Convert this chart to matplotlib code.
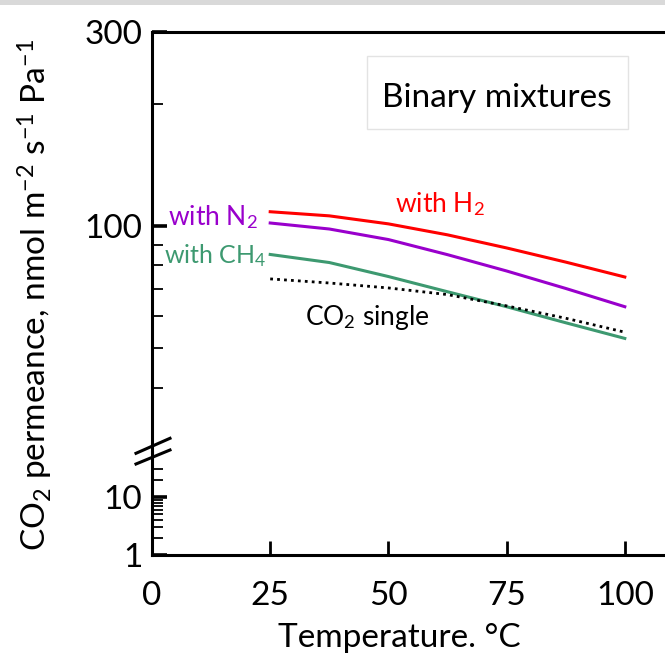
import numpy as np
import matplotlib
matplotlib.use("Agg")
import matplotlib.pyplot as plt
from matplotlib.lines import Line2D
from matplotlib.patches import Rectangle
from matplotlib.ticker import FixedLocator, NullFormatter

plt.rcParams['font.family'] = ['Lato', 'DejaVu Sans']
plt.rcParams['mathtext.fontset'] = 'custom'
plt.rcParams['mathtext.rm'] = 'Lato'
plt.rcParams['mathtext.it'] = 'Lato:italic'
plt.rcParams['mathtext.bf'] = 'Lato:bold'

# data
temperature = [25, 37.5, 50, 62.5, 75, 87.5, 100]
with_h2 = [108.4, 105.9, 101.2, 95.1, 88.3, 81.5, 74.9]
with_n2 = [101.7, 98.3, 92.6, 85.0, 77.5, 70.2, 63.3]
with_ch4 = [85.1, 81.3, 75.1, 68.9, 63.3, 57.8, 52.9]
co2_single = [74.1, 72.4, 70.4, 67.8, 63.6, 59.3, 54.8]

x_ticks = [0, 25, 50, 75, 100]
upper_major = [100, 300]
upper_minor = [40, 50, 60, 70, 80, 90, 200]
lower_major = [1, 10]
lower_minor = [2, 3, 4, 5, 6, 7, 8, 9, 20, 30]

red = '#ff0000'
purple = '#9900cc'
green = '#3d9970'

W, H = 665, 658
fig = plt.figure(figsize=(W / 100, H / 100), dpi=100)

def fbox(x0, y0, x1, y1):
    # pixel box (top-left origin) -> figure fraction rect
    return [x0 / W, 1 - y1 / H, (x1 - x0) / W, (y1 - y0) / H]

ax_top = fig.add_axes(fbox(152, 32, 665, 452))
ax_bot = fig.add_axes(fbox(152, 452, 665, 555), sharex=ax_top)

xmax = 108.5
for ax in (ax_top, ax_bot):
    ax.set_yscale('log')
    ax.set_xlim(0, xmax)
    ax.spines['right'].set_visible(False)
    for s in ax.spines.values():
        s.set_linewidth(2.2)
    ax.patch.set_alpha(0)

ax_top.set_ylim(27.8, 300)
ax_bot.set_ylim(1, 59.7)
ax_top.spines['bottom'].set_visible(False)
ax_bot.spines['top'].set_visible(False)

ax_top.yaxis.set_major_locator(FixedLocator(upper_major))
ax_top.yaxis.set_minor_locator(FixedLocator(upper_minor))
ax_bot.yaxis.set_major_locator(FixedLocator(lower_major))
ax_bot.yaxis.set_minor_locator(FixedLocator(lower_minor))
ax_top.set_yticklabels([str(v) for v in upper_major])
ax_bot.set_yticklabels([str(v) for v in lower_major])
for ax in (ax_top, ax_bot):
    ax.yaxis.set_minor_formatter(NullFormatter())
    ax.tick_params(axis='y', which='major', direction='in', length=11, width=2.6,
                   labelsize=24, pad=7)
    ax.tick_params(axis='y', which='minor', direction='in', length=8, width=1.3)

ax_top.tick_params(axis='x', which='both', bottom=False, labelbottom=False)
ax_bot.set_xticks(x_ticks)
ax_bot.tick_params(axis='x', direction='in', length=10, width=2, labelsize=24, pad=19)

ax_top.plot(temperature, with_h2, color=red, lw=2.2)
ax_top.plot(temperature, with_n2, color=purple, lw=2.2)
ax_top.plot(temperature, with_ch4, color=green, lw=2.2)
ax_top.plot(temperature, co2_single, color='black', lw=2, linestyle=(0, (1, 1.5)))

ax_top.text(51.4, 108.3, r'with H$_2$', color=red, fontsize=19, va='baseline')
ax_top.text(3.4, 100.6, r'with N$_2$', color=purple, fontsize=19, va='baseline')
ax_top.text(2.6, 81.1, r'with CH$_4$', color=green, fontsize=18, va='baseline')
ax_top.text(32.3, 57.1, r'CO$_2$ single', color='black', fontsize=19, va='baseline')

# label box
box_x0, box_x1 = (367 - 152) / 513, (628 - 152) / 513
box_y0, box_y1 = (452 - 129) / 420, (452 - 56) / 420
ax_top.add_patch(Rectangle((box_x0, box_y0), box_x1 - box_x0, box_y1 - box_y0,
                           transform=ax_top.transAxes, fc='white', ec='#e3e3e3', lw=1))
ax_top.text(73.0, 196.5, 'Binary mixtures', color='black', fontsize=24, ha='center',
            va='baseline')

fig.text(35 / W, 1 - 295 / H, r'CO$_2$ permeance, nmol m$^{-2}$ s$^{-1}$ Pa$^{-1}$',
         rotation=90, ha='center', va='center', fontsize=24)
fig.text(399 / W, 1 - 638 / H, 'Temperature. °C', ha='center', va='center', fontsize=24)

# axis break marks
for y0, y1 in [(453.3, 438.3), (464, 450)]:
    fig.add_artist(Line2D([136 / W, 170 / W], [1 - y0 / H, 1 - y1 / H],
                          color='black', lw=2.2, transform=fig.transFigure))

# grey strip along the top of the screenshot
fig.add_artist(Rectangle((0, 1 - 5 / H), 1, 5 / H, color='#d9d9d9',
                         transform=fig.transFigure, lw=0))

fig.savefig('out.png', dpi=100)
